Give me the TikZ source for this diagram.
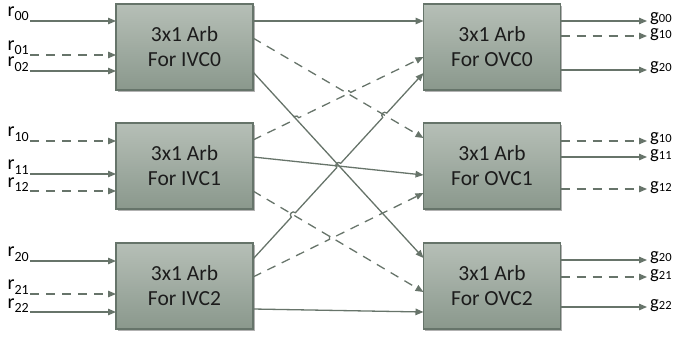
\documentclass[tikz,border=0pt]{standalone}
\usepackage{fontspec}
\setmainfont{Carlito}
\usetikzlibrary{arrows.meta,calc,shadows}
\definecolor{boxtop}{HTML}{B6BFB7}
\definecolor{boxbot}{HTML}{8A988C}
\definecolor{boxdraw}{HTML}{66746A}
\definecolor{linecol}{HTML}{67746A}
\definecolor{boxtext}{HTML}{1C1C1C}
\newcommand{\myrsub}[1]{r\raisebox{-4.5pt}{\fontsize{14}{14}\selectfont #1}}
\newcommand{\mygsub}[1]{g\raisebox{-1pt}{\fontsize{12.5}{12.5}\selectfont #1}}
\begin{document}
\begin{tikzpicture}[x=1pt,y=1pt,
  arb/.style={draw=boxdraw, line width=1.3pt, top color=boxtop, bottom color=boxbot,
    minimum width=137pt, minimum height=86pt, inner sep=0pt, outer sep=0pt,
    align=center, font=\fontsize{21.5}{25}\selectfont, text=boxtext,
    drop shadow={shadow xshift=1.8pt, shadow yshift=-1.8pt, fill=black, opacity=0.3}},
  conn/.style={draw=linecol, line width=1.3pt, -{Triangle[length=8pt,width=6.5pt]}},
  dsh/.style={dash pattern=on 9pt off 7pt},
  hop/.style={bend left=90, looseness=1.7},
  rlab/.style={anchor=base east, inner sep=0pt, font=\fontsize{20}{20}\selectfont, text=black},
  glab/.style={anchor=base west, inner sep=0pt, font=\fontsize{18.5}{18.5}\selectfont, text=black},
]
\useasboundingbox (0,0) rectangle (676,338);

% boxes
\node[arb] (i0) at (184.5,291) {3x1 Arb\\For IVC0};
\node[arb] (i1) at (184.5,172) {3x1 Arb\\For IVC1};
\node[arb] (i2) at (184.5,52)  {3x1 Arb\\For IVC2};
\node[arb] (o0) at (492,291) {3x1 Arb\\For OVC0};
\node[arb] (o1) at (492,172) {3x1 Arb\\For OVC1};
\node[arb] (o2) at (492,52)  {3x1 Arb\\For OVC2};

% input free ends
\coordinate (r00) at (30,317);
\coordinate (r01) at (30,283);
\coordinate (r02) at (30,267);
\coordinate (r10) at (30,197);
\coordinate (r11) at (30,164);
\coordinate (r12) at (30,147);
\coordinate (r20) at (30,77);
\coordinate (r21) at (30,44);
\coordinate (r22) at (30,26);

\draw[conn] (r00) -- (r00 -| i0.west);
\draw[conn,dsh] (r01) -- (r01 -| i0.west);
\draw[conn] (r02) -- (r02 -| i0.west);
\draw[conn,dsh] (r10) -- (r10 -| i1.west);
\draw[conn] (r11) -- (r11 -| i1.west);
\draw[conn,dsh] (r12) -- (r12 -| i1.west);
\draw[conn] (r20) -- (r20 -| i2.west);
\draw[conn,dsh] (r21) -- (r21 -| i2.west);
\draw[conn] (r22) -- (r22 -| i2.west);

\node[rlab] (lr00) at ($(r00)+(-1,4.5)$) {\myrsub{00}};
\node[rlab] (lr01) at ($(r01)+(-1,4.5)$) {\myrsub{01}};
\node[rlab] (lr02) at ($(r02)+(-1,4)$) {\myrsub{02}};
\node[rlab] (lr10) at ($(r10)+(-1,4.5)$) {\myrsub{10}};
\node[rlab] (lr11) at ($(r11)+(-1,4.5)$) {\myrsub{11}};
\node[rlab] (lr12) at ($(r12)+(-1,4)$) {\myrsub{12}};
\node[rlab] (lr20) at ($(r20)+(-1,4.5)$) {\myrsub{20}};
\node[rlab] (lr21) at ($(r21)+(-1,4.5)$) {\myrsub{21}};
\node[rlab] (lr22) at ($(r22)+(-1,4)$) {\myrsub{22}};

% output free ends
\coordinate (ga0) at (647,317);
\coordinate (ga1) at (647,302);
\coordinate (ga2) at (647,268);
\coordinate (gb0) at (647,197);
\coordinate (gb1) at (647,181);
\coordinate (gb2) at (647,149);
\coordinate (gc0) at (647,78);
\coordinate (gc1) at (647,61);
\coordinate (gc2) at (647,31);

\draw[conn] (o0.east |- ga0) -- (ga0);
\draw[conn,dsh] (o0.east |- ga1) -- (ga1);
\draw[conn] (o0.east |- ga2) -- (ga2);
\draw[conn,dsh] (o1.east |- gb0) -- (gb0);
\draw[conn] (o1.east |- gb1) -- (gb1);
\draw[conn,dsh] (o1.east |- gb2) -- (gb2);
\draw[conn] (o2.east |- gc0) -- (gc0);
\draw[conn,dsh] (o2.east |- gc1) -- (gc1);
\draw[conn] (o2.east |- gc2) -- (gc2);

\node[glab] (lg00) at ($(ga0)+(3,-0.5)$) {\mygsub{00}};
\node[glab] (lg10a) at ($(ga1)+(3,-1.5)$) {\mygsub{10}};
\node[glab] (lg20a) at ($(ga2)+(3,-1)$) {\mygsub{20}};
\node[glab] (lg10b) at ($(gb0)+(3,-0.5)$) {\mygsub{10}};
\node[glab] (lg11) at ($(gb1)+(3,-1.5)$) {\mygsub{11}};
\node[glab] (lg12) at ($(gb2)+(3,-1)$) {\mygsub{12}};
\node[glab] (lg20b) at ($(gc0)+(3,-0.5)$) {\mygsub{20}};
\node[glab] (lg21) at ($(gc1)+(3,-1.5)$) {\mygsub{21}};
\node[glab] (lg22) at ($(gc2)+(3,-1)$) {\mygsub{22}};

% crossbar ports
\coordinate (s0) at ($(i0.east)+(0,26)$);
\coordinate (s1) at ($(i0.east)+(0,9)$);
\coordinate (s2) at ($(i0.east)+(0,-25)$);
\coordinate (s3) at ($(i1.east)+(0,26)$);
\coordinate (s4) at ($(i1.east)+(0,9)$);
\coordinate (s5) at ($(i1.east)+(0,-25)$);
\coordinate (s6) at ($(i2.east)+(0,27)$);
\coordinate (s7) at ($(i2.east)+(0,9)$);
\coordinate (s8) at ($(i2.east)+(0,-23)$);
\coordinate (e0) at ($(o0.west)+(0,26)$);
\coordinate (e1) at ($(o1.west)+(0,28)$);
\coordinate (e2) at ($(o2.west)+(0,28)$);
\coordinate (e3) at ($(o0.west)+(0,-10)$);
\coordinate (e4) at ($(o1.west)+(0,-9)$);
\coordinate (e5) at ($(o2.west)+(0,-6)$);
\coordinate (e6) at ($(o0.west)+(0,-26)$);
\coordinate (e7) at ($(o1.west)+(0,-27)$);
\coordinate (e8) at ($(o2.west)+(0,-26)$);

\draw[conn] (s0) -- (e0);
\draw[conn,dsh] (s1) -- (e1);
\draw[conn] (s2) -- (e2);
\draw[conn,dsh] (s3) -- ($(s3)!0.2370!(e3)$) to[hop] ($(s3)!0.2686!(e3)$)
  -- ($(s3)!0.5416!(e3)$) to[hop] ($(s3)!0.5732!(e3)$) -- (e3);
\draw[conn] (s4) -- (e4);
\draw[conn,dsh] (s5) -- (e5);
\draw[conn] (s6) -- ($(s6)!0.2250!(e6)$) to[hop] ($(s6)!0.2488!(e6)$)
  -- ($(s6)!0.4908!(e6)$) to[hop] ($(s6)!0.5146!(e6)$)
  -- ($(s6)!0.7608!(e6)$) to[hop] ($(s6)!0.7846!(e6)$) -- (e6);
\draw[conn,dsh] (s7) -- ($(s7)!0.4491!(e7)$) to[hop] ($(s7)!0.4807!(e7)$) -- (e7);
\draw[conn] (s8) -- (e8);
\end{tikzpicture}
\end{document}
